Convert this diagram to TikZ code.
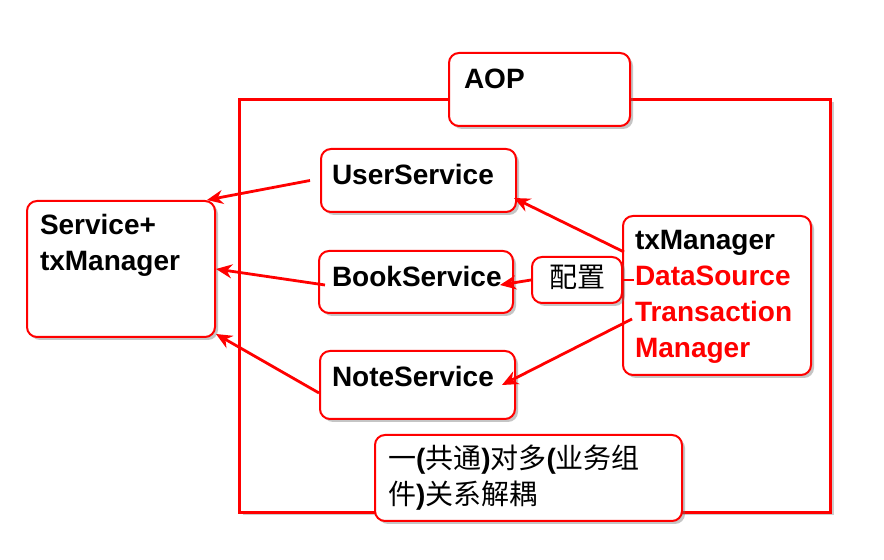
\documentclass[tikz,border=0pt]{standalone}
\usepackage{fontspec}
\setmainfont{Liberation Sans}
\newfontfamily\cjkfont{Noto Sans CJK SC}
\usepackage{xcolor}
\definecolor{BorderRed}{RGB}{255,0,0}
\definecolor{ShadowGray}{RGB}{110,110,110}
\usetikzlibrary{arrows.meta, positioning, calc, shadows}
\newcommand{\zhtext}[1]{{\cjkfont\mdseries #1}}
\tikzset{
  % Rounded white box, text set from the top left
  rbox/.style={
    rectangle, rounded corners=5pt,
    draw=BorderRed, line width=1pt,
    fill=white,
    drop shadow={shadow xshift=1.5pt, shadow yshift=-1.5pt, opacity=0.4, fill=ShadowGray},
    anchor=north west, align=left,
    font=\bfseries\fontsize{14}{18}\selectfont,
    inner xsep=6pt, inner ysep=7pt, text height=10pt
  },
  % Large AOP frame
  framebox/.style={
    rectangle, draw=BorderRed, line width=1.5pt, fill=white,
    drop shadow={shadow xshift=1.5pt, shadow yshift=-1.5pt, opacity=0.35, fill=ShadowGray},
    anchor=north west, inner sep=0pt
  },
  % Arrows
  arr/.style={-{Stealth[length=8pt,width=7pt]}, line width=1.4pt, BorderRed},
  link/.style={line width=1.4pt, BorderRed},
}

\begin{document}
\begin{tikzpicture}[x=0.5pt, y=-0.5pt]

  \fill[white] (0,0) rectangle (884,560);
  \useasboundingbox (0,0) rectangle (884,560);

  %% Frame and its title
  \node[framebox, minimum width=295.5pt, minimum height=206.5pt] (aop frame) at (238,98) {};
  \node[rbox, inner xsep=7.5pt, inner ysep=8pt, text width=75.5pt, text depth=10.5pt]
    (aop) at (448,52) {AOP};

  %% Left box
  \node[rbox, inner xsep=6.5pt, text width=81pt, text depth=44pt]
    (svc) at (26,200) {Service+\\txManager};

  %% Services
  \node[rbox, inner xsep=5.5pt, inner ysep=8pt, text width=86.5pt, text depth=5.5pt]
    (user) at (320,148) {UserService};
  \node[rbox, inner xsep=6.5pt, inner ysep=8pt, text width=84pt, text depth=5pt]
    (book) at (318,250) {BookService};
  \node[rbox, inner xsep=6pt, inner ysep=8pt, text width=85.5pt, text depth=8pt]
    (note) at (319,350) {NoteService};

  %% Transaction manager
  \node[rbox, text width=82pt, text depth=55.5pt]
    (tx) at (622,215) {txManager\\\textcolor{BorderRed}{DataSource}\\
      \textcolor{BorderRed}{Transaction}\\\textcolor{BorderRed}{Manager}};

  \node[rbox, align=center, inner sep=2pt, text depth=2pt,
    minimum width=45pt, minimum height=23pt]
    (cfg) at (531,256) {\zhtext{配置}};

  %% Note at the bottom
  \node[rbox, inner xsep=6.5pt, text width=140.5pt, text depth=19pt]
    (note text) at (374,434)
    {\zhtext{一}(\zhtext{共通})\zhtext{对多}(\zhtext{业务组}\\\zhtext{件})\zhtext{关系解耦}};

  %% Connectors
  \draw[arr] ([xshift=-5pt]user.west) -- ([xshift=-4.5pt]svc.north east);
  \draw[arr] ([xshift=3.5pt,yshift=-1.5pt]book.west) -- (svc.east);
  \draw[arr] ([yshift=-4pt]note.west) -- ([yshift=2pt]svc.south east);

  \draw[arr] ([xshift=1pt,yshift=-18.5pt]tx.north west) -- ([xshift=-1.5pt,yshift=7.5pt]user.south east);
  \draw[arr] (cfg.west) -- ([xshift=-7pt,yshift=-1.5pt]book.east);
  \draw[link] (cfg.east) -- ([xshift=6pt]cfg.east -| tx.west);
  \draw[arr] ([xshift=5pt,yshift=-11.75pt]tx.west) -- ([xshift=-7pt]note.east);

\end{tikzpicture}
\end{document}
